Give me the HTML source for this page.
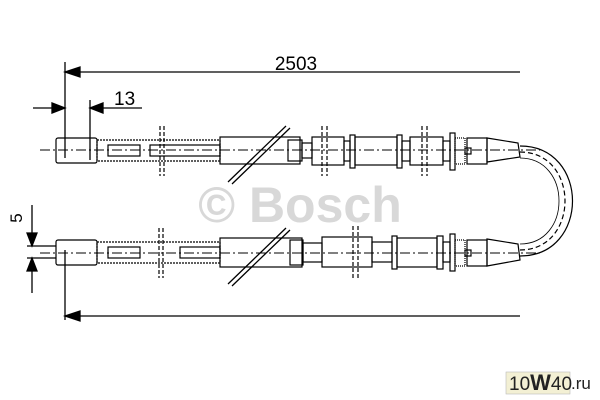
<!DOCTYPE html><html><head><style>body{margin:0;background:#fff}svg{display:block}</style></head><body>
<svg width="600" height="400" viewBox="0 0 600 400" xmlns="http://www.w3.org/2000/svg" font-family="Liberation Sans, sans-serif">
<text x="300" y="222" font-size="50" font-weight="bold" fill="#d8d8d8" text-anchor="middle">© Bosch</text>
<g stroke="#000" stroke-width="1.3" fill="none">
<line x1="65" y1="62" x2="65" y2="158"/>
<line x1="65" y1="72" x2="520" y2="72"/>
<polygon points="65,72 80,67 80,77" fill="#000"/>
<line x1="90" y1="100" x2="90" y2="160"/>
<line x1="33" y1="108" x2="65" y2="108"/><polygon points="65,108 52,103 52,113" fill="#000"/>
<line x1="90" y1="108" x2="142" y2="108"/><polygon points="90,108 103,103 103,113" fill="#000"/>
<line x1="32" y1="205" x2="32" y2="246"/><polygon points="32,246 27,233 37,233" fill="#000"/>
<line x1="32" y1="258" x2="32" y2="293"/><polygon points="32,258 27,271 37,271" fill="#000"/>
<line x1="27" y1="246" x2="56" y2="246"/><line x1="27" y1="258" x2="56" y2="258"/>
<line x1="65" y1="250" x2="65" y2="320"/>
<line x1="65" y1="316" x2="520" y2="316"/><polygon points="65,316 80,311 80,321" fill="#000"/>
</g>
<text x="296" y="70" font-size="19" text-anchor="middle">2503</text>
<text x="114" y="105" font-size="19">13</text>
<text x="22" y="218" font-size="17" transform="rotate(-90 22 218)" text-anchor="middle">5</text>
<g stroke="#000" stroke-width="1.2" fill="none">
<rect x="56" y="138" width="41" height="25" rx="2"/>
<rect x="97" y="140" width="123" height="21" stroke-dasharray="2,1"/>
<rect x="108" y="145" width="32" height="11"/>
<rect x="150" y="145" width="70" height="11"/>
<line x1="160" y1="126" x2="160" y2="176" stroke-dasharray="4,2"/><line x1="164" y1="126" x2="164" y2="176" stroke-dasharray="4,2"/>
<rect x="220" y="137" width="80" height="27"/>
<rect x="288" y="140" width="14" height="21"/>
<rect x="302" y="143" width="10" height="15"/>
<rect x="312" y="137" width="32" height="28"/>
<line x1="322" y1="126" x2="322" y2="176" stroke-dasharray="4,2"/><line x1="327" y1="126" x2="327" y2="176" stroke-dasharray="4,2"/>
<rect x="344" y="141" width="6" height="20"/>
<rect x="350" y="135" width="5" height="33"/>
<rect x="355" y="137" width="42" height="28"/>
<rect x="397" y="135" width="5" height="33"/>
<rect x="402" y="141" width="8" height="20"/>
<rect x="410" y="137" width="33" height="28"/>
<line x1="422" y1="126" x2="422" y2="176" stroke-dasharray="4,2"/><line x1="427" y1="126" x2="427" y2="176" stroke-dasharray="4,2"/>
<rect x="443" y="141" width="7" height="20"/>
<rect x="450" y="133" width="5" height="37"/>
<rect x="455" y="138" width="10" height="26" stroke-dasharray="1,1"/>
<rect x="465" y="148" width="6" height="6"/>
<rect x="467" y="138" width="20" height="26"/>
<polygon points="487,138 518,143 520,157 487,162"/>
<line x1="40" y1="150" x2="540" y2="150" stroke-width="1" stroke-dasharray="10,3,2,3"/>
<g stroke-width="1.3"><line x1="228" y1="182" x2="286" y2="126"/><line x1="232" y1="184" x2="290" y2="128"/></g>
</g>
<g stroke="#000" stroke-width="1.2" fill="none">
<rect x="56" y="240" width="41" height="25" rx="2"/>
<rect x="97" y="242" width="123" height="21" stroke-dasharray="2,1"/>
<rect x="108" y="247" width="32" height="11"/>
<rect x="180" y="247" width="40" height="11"/>
<line x1="159" y1="228" x2="159" y2="278" stroke-dasharray="4,2"/><line x1="163" y1="228" x2="163" y2="278" stroke-dasharray="4,2"/>
<rect x="220" y="238" width="82" height="29"/>
<rect x="290" y="240" width="13" height="25"/>
<rect x="303" y="243" width="19" height="19"/>
<rect x="322" y="237" width="50" height="30"/>
<line x1="353" y1="226" x2="353" y2="278" stroke-dasharray="4,2"/><line x1="358" y1="226" x2="358" y2="278" stroke-dasharray="4,2"/>
<rect x="372" y="242" width="20" height="20"/>
<rect x="392" y="236" width="5" height="33"/>
<rect x="397" y="238" width="40" height="29"/>
<rect x="437" y="236" width="6" height="33"/>
<rect x="443" y="242" width="7" height="20"/>
<rect x="450" y="234" width="5" height="37"/>
<rect x="455" y="240" width="10" height="26" stroke-dasharray="1,1"/>
<rect x="465" y="250" width="6" height="6"/>
<rect x="467" y="240" width="20" height="26"/>
<polygon points="487,239 518,244 520,260 487,266"/>
<line x1="40" y1="253" x2="540" y2="253" stroke-width="1" stroke-dasharray="10,3,2,3"/>
<g stroke-width="1.3"><line x1="228" y1="284" x2="286" y2="228"/><line x1="232" y1="286" x2="290" y2="230"/></g>
<path d="M520,146 C590,146 590,256 520,256"/>
<path d="M520,152 C580,152 580,250 520,250" stroke-dasharray="5,3"/>
<path d="M520,158 C572,158 572,244 520,244" stroke-width="0.8"/>
</g>
<rect x="506" y="372" width="64" height="22" fill="#f3f0d4" stroke="#bbb" stroke-width="0.6"/>
<text x="509" y="390" font-size="19" fill="#222">10<tspan font-weight="bold" font-size="22">W</tspan>40</text>
<text x="571" y="389" font-size="17" fill="#222">.ru</text>
</svg>
</body></html>
